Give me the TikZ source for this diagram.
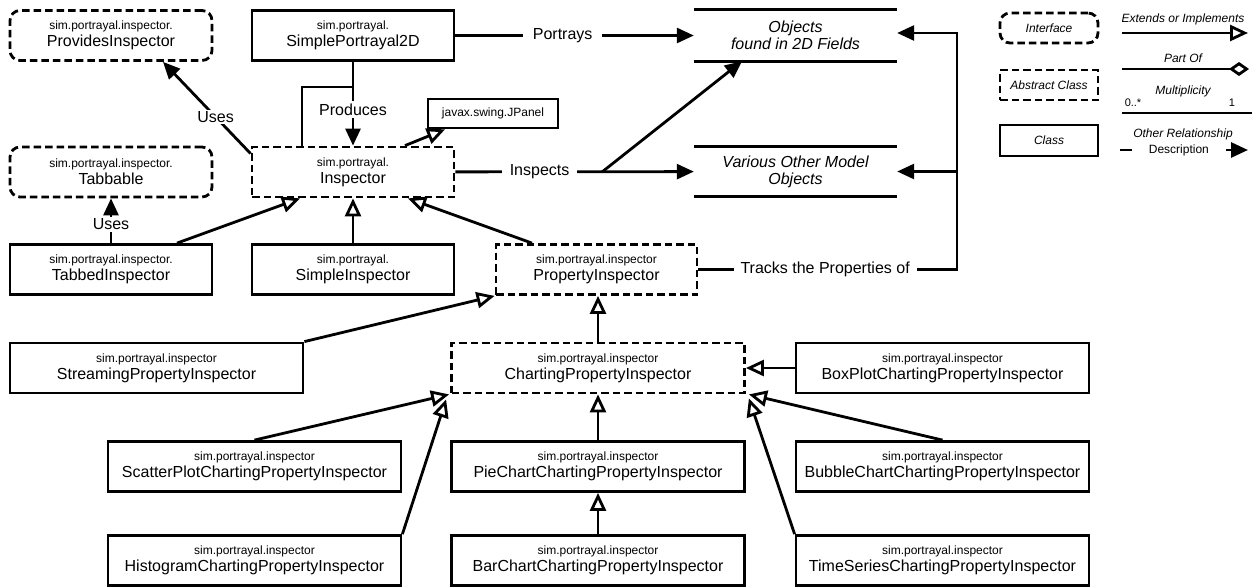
\documentclass[tikz,border=0pt]{standalone}
\usepackage{fontspec}
\setmainfont{Liberation Sans}
\usetikzlibrary{arrows.meta, positioning}
\newcommand{\pkgname}[2]{{\fontsize{12}{13}\selectfont #1}\\#2}

\begin{document}
\begin{tikzpicture}[
  x=1pt, y=-1pt,
  every node/.style={font=\fontsize{16}{17}\selectfont},
  base/.style={rectangle, line width=2.8pt, minimum height=50pt, align=center, inner sep=0pt},
  cls/.style={base, draw, minimum width=202pt},
  absx/.style={base, draw, dash pattern=on 7.5pt off 4pt, minimum width=202pt},
  iface/.style={absx, rounded corners=10pt},
  wide/.style={minimum width=293pt},
  store/.style={rectangle, minimum width=203pt, minimum height=51pt, align=center, inner sep=0pt, font=\fontsize{16}{17}\selectfont\itshape},
  legbox/.style={minimum width=98pt, minimum height=30pt, font=\fontsize{12}{13}\selectfont\itshape},
  lgtext/.style={font=\fontsize{12}{13}\selectfont\itshape},
  conn/.style={line width=2.8pt},
  rel/.style={conn, -{Triangle[length=17pt,width=15pt]}},
  ext/.style={conn, -{Triangle[length=18pt,width=16pt,fill=white]}},
  lbl/.style={fill=white, inner xsep=8pt, inner ysep=1pt},
]
\useasboundingbox (0,0) rectangle (1252,586);

% Interfaces and top classes
\node[iface] (provides) at (111,35.5) {\pkgname{sim.portrayal.inspector.}{ProvidesInspector}};
\node[cls] (simpport) at (353,35.5) {\pkgname{sim.portrayal.}{SimplePortrayal2D}};
\node[store] (objects) at (795.5,35.5) {Objects\\found in 2D Fields};
\node[iface] (tabbable) at (111,172) {\pkgname{sim.portrayal.inspector.}{Tabbable}};
\node[absx] (inspector) at (353,172) {\pkgname{sim.portrayal.}{Inspector}};
\node[cls, minimum width=130pt, minimum height=29pt, font=\fontsize{12}{13}\selectfont] (jpanel) at (493,113.5) {javax.swing.JPanel};
\node[store, minimum height=49pt] (various) at (795.5,171.5) {Various Other Model\\Objects};

\draw[conn] (objects.north west) -- (objects.north east);
\draw[conn] (objects.south west) -- (objects.south east);
\draw[conn] (various.north west) -- (various.north east);
\draw[conn] (various.south west) -- (various.south east);

% Inspectors
\node[cls] (tabbed) at (111,269.5) {\pkgname{sim.portrayal.inspector.}{TabbedInspector}};
\node[cls] (simpleinsp) at (353,269.5) {\pkgname{sim.portrayal.}{SimpleInspector}};
\node[absx, minimum width=201pt] (propinsp) at (596.5,269.5) {\pkgname{sim.portrayal.inspector}{PropertyInspector}};
\node[cls, wide] (streaming) at (156.5,368) {\pkgname{sim.portrayal.inspector}{StreamingPropertyInspector}};
\node[absx, wide] (charting) at (598,368) {\pkgname{sim.portrayal.inspector}{ChartingPropertyInspector}};
\node[cls, wide] (boxplot) at (942.5,368) {\pkgname{sim.portrayal.inspector}{BoxPlotChartingPropertyInspector}};

% Charting inspectors
\node[cls, wide] (scatter) at (254.5,466.5) {\pkgname{sim.portrayal.inspector}{ScatterPlotChartingPropertyInspector}};
\node[cls, wide] (pie) at (598,466.5) {\pkgname{sim.portrayal.inspector}{PieChartChartingPropertyInspector}};
\node[cls, wide] (bubble) at (942.5,466.5) {\pkgname{sim.portrayal.inspector}{BubbleChartChartingPropertyInspector}};
\node[cls, wide] (histogram) at (254.5,560.5) {\pkgname{sim.portrayal.inspector}{HistogramChartingPropertyInspector}};
\node[cls, wide] (barchart) at (598,560.5) {\pkgname{sim.portrayal.inspector}{BarChartChartingPropertyInspector}};
\node[cls, wide] (timeseries) at (942.5,560.5) {\pkgname{sim.portrayal.inspector}{TimeSeriesChartingPropertyInspector}};

% Relationships
\coordinate (prodknee) at (353,87);
\coordinate (insfork) at (602,172);
\coordinate (trkline) at (957,0);

\draw[rel] (simpport) -- node[lbl, pos=0.45, inner xsep=10pt] {Portrays} (objects);
\draw[rel] (simpport) -- node[lbl, pos=0.57, inner xsep=2pt, inner ysep=3pt] {Produces} (inspector);
\draw[conn] (prodknee) -| ([xshift=-51pt]inspector.north);
\draw[rel] ([yshift=-8pt]inspector.north west) -- node[lbl, pos=0.4, inner xsep=1pt] {Uses} ([xshift=52pt]provides.south);
\draw[rel] (tabbed) -- node[lbl, pos=0.42, inner xsep=2pt, inner ysep=2pt] {Uses} (tabbable);
\draw[rel] (inspector) -- node[lbl, pos=0.353] {Inspects} (various);
\draw[rel] (insfork) -- ([xshift=-53.5pt]objects.south);
\draw[rel] (propinsp.east) -- node[lbl, pos=0.49, inner xsep=7pt] {Tracks the Properties of} (propinsp.east -| trkline) |- ([yshift=2.5pt]objects.east);
\draw[rel] (various.east -| trkline) -- (various.east);

\draw[ext] ([xshift=66pt]tabbed.north) -- ([xshift=-53pt]inspector.south);
\draw[ext] (simpleinsp) -- (inspector);
\draw[ext] ([xshift=-64.5pt]propinsp.north) -- ([xshift=55pt]inspector.south);
\draw[ext] ([xshift=52pt]inspector.north) -- ([xshift=-48pt]jpanel.south);
\draw[ext] (charting) -- (charting |- propinsp.south);
\draw[ext] (streaming.north east) -- (propinsp.south west);
\draw[ext] (boxplot) -- (charting);
\draw[ext] (scatter.north) -- ([xshift=-1pt]charting.south west);
\draw[ext] (histogram.north east) -- ([shift={(-4pt,-5pt)}]charting.south west);
\draw[ext] (pie) -- (charting);
\draw[ext] (barchart) -- (pie);
\draw[ext] (bubble.north) -- ([xshift=3pt]charting.south east);
\draw[ext] (timeseries.north west) -- ([shift={(3pt,-4pt)}]charting.south east);

% Legend
\node[iface, legbox] (lgiface) at (1049,28) {Interface};
\node[absx, legbox] (lgabs) at (1049,85) {Abstract Class};
\node[cls, legbox, minimum height=31pt] (lgclass) at (1049,140.5) {Class};

\coordinate (lgext1) at (1122,33);
\coordinate (lgext2) at (1248,33);
\coordinate (lgpart1) at (1122,69);
\coordinate (lgpart2) at (1249,69);
\coordinate (lgmul1) at (1122,113);
\coordinate (lgmul2) at (1252,113);
\coordinate (lgrel1) at (1120,150);
\coordinate (lgrel2) at (1248,150);

\node[lgtext] (lgexttxt) at (1183,19) {Extends or Implements};
\draw[ext] (lgext1) -- (lgext2);
\node[lgtext] (lgparttxt) at (1183,58) {Part Of};
\draw[conn, -{Diamond[length=20pt,width=14pt,fill=white]}] (lgpart1) -- (lgpart2);
\node[lgtext] (lgmultxt) at (1183,91) {Multiplicity};
\node[font=\fontsize{11}{12}\selectfont] (lgmany) at (1133,103) {0..*};
\node[font=\fontsize{11}{12}\selectfont] (lgone) at (1232,103) {1};
\draw[conn] (lgmul1) -- (lgmul2);
\node[lgtext] (lgreltxt) at (1183,134) {Other Relationship};
\draw[rel] (lgrel1) -- node[lbl, pos=0.46, inner xsep=17pt, font=\fontsize{12}{13}\selectfont] {Description} (lgrel2);

\end{tikzpicture}
\end{document}
